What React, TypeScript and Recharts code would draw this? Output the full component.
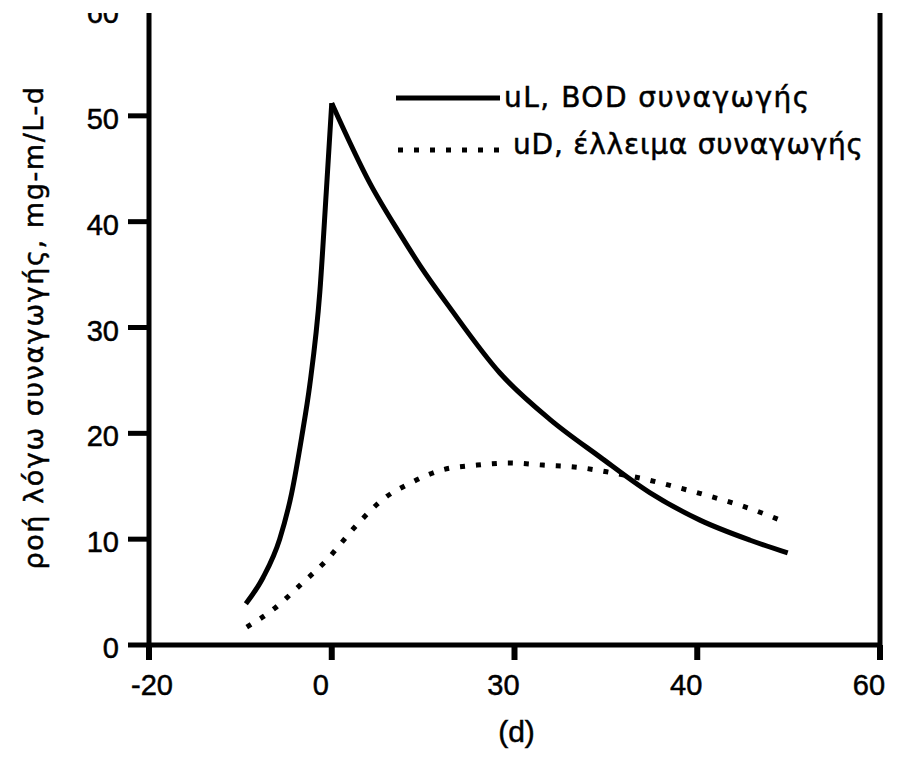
import React from 'react';
import { LineChart, Line, XAxis, YAxis, Legend } from 'recharts';

const xTickValues = [-20, 0, 20, 40, 60];
const xTickLabels = ['-20', '0', '30', '40', '60'];
const yTickValues = [0, 10, 20, 30, 40, 50, 60];

const uLDays = [-9.4, -7.5, -5.7, -4.4, -3.3, -2.4, -1.3, -0.6, 0, 4.2, 7.5, 9.7, 12.9, 18.4, 23.9, 29.3, 34.8, 40.3, 45.8, 49.9];
const uLValues = [3.9, 6.4, 10.0, 14.3, 19.6, 24.6, 33.4, 42.8, 51.2, 43.6, 38.8, 35.8, 31.9, 25.7, 21.3, 17.8, 14.4, 11.8, 9.9, 8.7];

const uDDays = [-9.3, -6.2, -3.4, -0.7, 2.8, 5.5, 8.6, 11.9, 15.9, 19.5, 23.1, 26.8, 30.5, 34.1, 37.8, 41.2, 44.7, 48.2, 49.9];
const uDValues = [1.7, 3.5, 5.7, 7.9, 11.4, 13.7, 15.3, 16.5, 17.0, 17.2, 17.0, 16.8, 16.3, 15.7, 14.9, 14.1, 13.2, 12.1, 11.5];

const seriesNames = ['uL, BOD συναγωγής', 'uD, έλλειμα συναγωγής'];
const yAxisTitle = 'ροή λόγω συναγωγής, mg-m/L-d';
const xAxisTitle = '(d)';

const uLData = uLDays.map((d, i) => ({ day: d, value: uLValues[i] }));
const peakIndex = uLValues.indexOf(Math.max(...uLValues));
const uLRise = uLData.slice(0, peakIndex + 1);
const uLFall = uLData.slice(peakIndex);
const uDData = uDDays.map((d, i) => ({ day: d, value: uDValues[i] }));

const NUM_FONT = '"Liberation Sans", Arial, sans-serif';
const GREEK_FONT = '"DejaVu Sans", sans-serif';
const INK = { fill: '#000', stroke: '#000', strokeWidth: 0.5 };

const XTick = (props: any) => {
  const { x, y, payload, index } = props;
  const idx = xTickValues.indexOf(payload.value);
  const shift = index === 0 ? 3 : -11;
  return (
    <text x={x + shift} y={y + 23} textAnchor="middle" fontFamily={NUM_FONT} fontSize={29} {...INK}>
      {xTickLabels[idx]}
    </text>
  );
};

const YTick = (props: any) => {
  const { x, y, payload } = props;
  return (
    <text x={x} y={y + 13} textAnchor="end" fontFamily={NUM_FONT} fontSize={29} {...INK}>
      {payload.value}
    </text>
  );
};

const YLabel = (props: any) => {
  const vb = props.viewBox || { x: 0, y: 0, width: 0, height: 0 };
  const cx = 33;
  const cy = vb.y + vb.height / 2;
  return (
    <text
      x={cx}
      y={cy}
      transform={`rotate(-90, ${cx}, ${cy})`}
      textAnchor="middle"
      dominantBaseline="central"
      fontFamily={GREEK_FONT}
      fontSize={27}
      letterSpacing={1.6}
      {...INK}
    >
      {yAxisTitle}
    </text>
  );
};

const XLabel = (props: any) => {
  const vb = props.viewBox || { x: 0, y: 0, width: 0, height: 0 };
  return (
    <text x={vb.x + vb.width / 2 + 2} y={vb.y + 97} textAnchor="middle" fontFamily={NUM_FONT} fontSize={30} {...INK}>
      {xAxisTitle}
    </text>
  );
};

const LegendContent = () => (
  <svg width={500} height={110} style={{ display: 'block', overflow: 'visible' }}>
    <line x1={6} y1={28} x2={110} y2={28} stroke="#000" strokeWidth={5} />
    <text x={114} y={37} fontFamily={GREEK_FONT} fontSize={28} letterSpacing={1.5} {...INK}>
      {seriesNames[0]}
    </text>
    <line x1={8} y1={80} x2={110} y2={80} stroke="#000" strokeWidth={5} strokeDasharray="5 11" />
    <text x={123} y={84} fontFamily={GREEK_FONT} fontSize={28} letterSpacing={0.8} {...INK}>
      {seriesNames[1]}
    </text>
  </svg>
);

export default function App() {
  return (
    <div style={{ position: 'absolute', left: 0, top: 13, width: 900, height: 745, overflow: 'hidden', background: '#fff' }}>
      <div style={{ position: 'absolute', left: 0, top: -13, width: 900, height: 758 }}>
        <LineChart width={900} height={758} margin={{ top: 10, right: 0, bottom: 0, left: 0 }}>
          <XAxis
            dataKey="day"
            type="number"
            domain={[-20, 60]}
            ticks={xTickValues}
            allowDataOverflow
            height={113}
            tickSize={15}
            tickMargin={12}
            axisLine={{ stroke: '#000', strokeWidth: 5 }}
            tickLine={{ stroke: '#000', strokeWidth: 6 }}
            tick={XTick}
            label={{ content: XLabel }}
          />
          <YAxis
            yAxisId="l"
            type="number"
            domain={[0, 60]}
            ticks={yTickValues}
            allowDataOverflow
            width={149}
            tickSize={21}
            tickMargin={9}
            axisLine={{ stroke: '#000', strokeWidth: 5 }}
            tickLine={{ stroke: '#000', strokeWidth: 5 }}
            tick={YTick}
            label={{ content: YLabel }}
          />
          <YAxis
            yAxisId="r"
            orientation="right"
            type="number"
            domain={[0, 60]}
            width={20}
            tick={false}
            tickLine={false}
            axisLine={{ stroke: '#000', strokeWidth: 5 }}
          />
          <Legend
            layout="vertical"
            align="center"
            verticalAlign="middle"
            content={LegendContent}
            wrapperStyle={{ position: 'absolute', left: 390, top: 70, width: 500, height: 110 }}
          />
          <Line
            data={uLRise}
            dataKey="value"
            yAxisId="l"
            type="monotone"
            stroke="#000"
            strokeWidth={5}
            dot={false}
            activeDot={false}
            isAnimationActive={false}
            legendType="none"
          />
          <Line
            data={uLFall}
            dataKey="value"
            yAxisId="l"
            type="monotone"
            stroke="#000"
            strokeWidth={5}
            dot={false}
            activeDot={false}
            isAnimationActive={false}
            legendType="none"
          />
          <Line
            data={uDData}
            dataKey="value"
            yAxisId="l"
            type="monotone"
            stroke="#000"
            strokeWidth={5}
            strokeDasharray="5 11"
            dot={false}
            activeDot={false}
            isAnimationActive={false}
            legendType="none"
          />
        </LineChart>
      </div>
    </div>
  );
}
